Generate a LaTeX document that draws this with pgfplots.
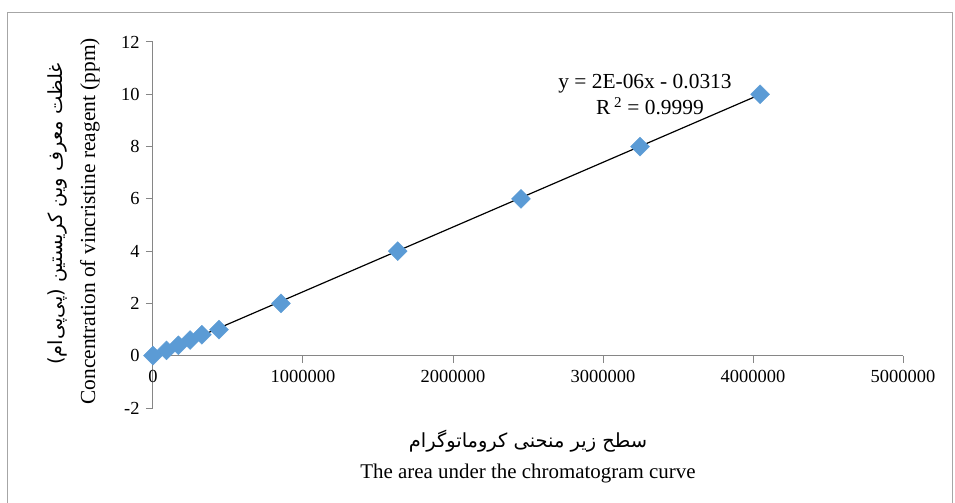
\documentclass[border=0pt]{standalone}
\usepackage{fontspec}
\setmainfont{Liberation Serif}
\newfontfamily\arabicfont[Script=Arabic]{DejaVu Sans}
\usepackage{pgfplots}
\pgfplotsset{compat=1.18}
\TeXXeTstate=1
\definecolor{mk}{HTML}{5B9BD5}
\definecolor{axgray}{HTML}{868686}
\definecolor{framegray}{HTML}{A6A6A6}
\begin{document}
\begin{tikzpicture}
\path[use as bounding box] (-153bp,-95bp) rectangle (802bp,408bp);
\draw[framegray, line width=1bp] (-145bp,-110bp) -- (-145bp,395bp) -- (799bp,395bp) -- (799bp,-110bp);
\begin{axis}[
  scale only axis, width=750bp, height=366bp,
  xmin=0, xmax=5000000, ymin=-2, ymax=12,
  axis x line*=middle, axis y line*=left,
  hide obscured x ticks=false, hide obscured y ticks=false,
  xtick={0,1000000,2000000,3000000,4000000,5000000},
  ytick={-2,0,2,4,6,8,10,12},
  scaled x ticks=false,
  tick align=outside,
  major tick length=7bp,
  axis line style={axgray, line width=1bp},
  every tick/.style={axgray, line width=1bp},
  /pgf/number format/assume math mode=true,
  xticklabel style={/pgf/number format/fixed, /pgf/number format/1000 sep={}, font=\fontsize{18.5}{20}\selectfont, yshift=-4bp},
  yticklabel style={font=\fontsize{18.5}{20}\selectfont, xshift=-3bp},
  clip=false,
]
\addplot[only marks, mark=square*, mark size=6.7bp, mark options={rotate=45, fill=mk, draw=mk}] coordinates {
(0,0) (90000,0.2) (169000,0.4) (247000,0.6) (326000,0.8) (440000,1.0)
(853000,2) (1631000,4) (2453000,6) (3247000,8) (4047000,10)};
\addplot[black, line width=1.2bp, no marks] coordinates {(0,-0.03) (4047000,9.99)};
\node[font=\fontsize{21.5}{24}\selectfont] at (axis cs:3280000,10.39) {y = 2E-06x - 0.0313};
\node[font=\fontsize{21.5}{24}\selectfont] at (axis cs:3313000,9.55) {R\,\textsuperscript{2} = 0.9999};
\node[font=\fontsize{21}{24}\selectfont] at (axis description cs:0.5,-0.18) {The area under the chromatogram curve};
\node[font=\fontsize{19.5}{24}\selectfont] at (axis description cs:0.5,-0.09) {\arabicfont\beginR سطح زیر منحنی کروماتوگرام\endR};
\node[rotate=90, font=\fontsize{21.5}{24}\selectfont] at (axis description cs:-0.084,0.51) {Concentration of vincristine reagent (ppm)};
\node[rotate=90, font=\fontsize{19.5}{24}\selectfont] at (axis description cs:-0.127,0.53) {\arabicfont\beginR غلظت معرف وین کریستین (پی‌پی‌ام)\endR};
\end{axis}
\end{tikzpicture}
\end{document}
